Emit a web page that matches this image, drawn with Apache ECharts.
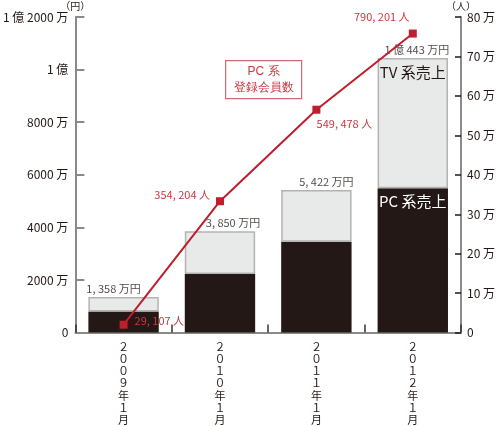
<!DOCTYPE html>
<html><head><meta charset="utf-8">
<script src="https://cdn.jsdelivr.net/npm/echarts@6/dist/echarts.min.js"></script>
<style>html,body{margin:0;padding:0;background:#fff}#c{width:498px;height:426px}</style>
</head><body><div id="c"></div>
<script>
// ---- data ----
const categories = ['２\n０\n０\n９\n年\n１\n月', '２\n０\n１\n０\n年\n１\n月', '２\n０\n１\n１\n年\n１\n月', '２\n０\n１\n２\n年\n１\n月'];
const pcSales = [800, 2230, 3450, 5490];          // 万円 (dark part)
const tvSales = [558, 1620, 1972, 4953];          // 万円 (light part)
const totalSales = [1358, 3850, 5422, 10443];     // 万円
const totalLabels = ['1, 358 万円', '3, 850 万円', '5, 422 万円', '1 億 443 万円'];
const members = [2.0, 33.3, 56.5, 75.8];          // 万人 (as plotted)
const memberLabels = ['29, 107 人', '354, 204 人', '549, 478 人', '790, 201 人'];
const leftTickLabels = ['0', '2000 万', '4000 万', '6000 万', '8000 万', '1 億', '1 億 2000 万'];
const rightTickLabels = ['0', '10 万', '20 万', '30 万', '40 万', '50 万', '60 万', '70 万', '80 万'];

// ---- styles ----
const FONT = "'Liberation Sans Narrow','Noto Sans CJK JP',sans-serif";
const DARK = '#231815', LIGHT = '#e8e9e9', RED = '#be1e2d', RED_T = '#c8383f', GRAY = '#8a8a8a';
const totalLabelOffsets = [[-10, 0], [13, 0], [10, 0], [4, 0]];
const memberLabelStyles = [
  { position: 'right', distance: 7, offset: [0, -4] },
  { position: 'left', distance: 6, offset: [0, -6] },
  { position: 'bottom', distance: 5, offset: [28, 0] },
  { position: 'top', distance: 7, offset: [-31, 0] }
];

const chart = echarts.init(document.getElementById('c'), null, { renderer: 'canvas' });
chart.setOption({
  animation: false,
  backgroundColor: '#fff',
  textStyle: { fontFamily: FONT },
  grid: { left: 60, right: 32, top: 17, bottom: 92, containLabel: false },
  xAxis: {
    type: 'category', data: categories, boundaryGap: true,
    axisLine: { lineStyle: { color: GRAY, width: 2 } },
    axisTick: { show: true, inside: true, length: 8, lineStyle: { color: '#333', width: 1.5 } },
    axisLabel: { color: DARK, fontSize: 11, lineHeight: 12.2, margin: 8, interval: 0, fontFamily: "'Noto Sans CJK JP'" }
  },
  yAxis: [
    {
      type: 'value', min: 0, max: 12000, interval: 2000, position: 'left',
      name: '（円）', nameLocation: 'end', nameGap: 6,
      nameTextStyle: { color: DARK, fontSize: 10, align: 'center', padding: [0, 0, 0, 0] },
      axisLine: { show: true, lineStyle: { color: GRAY, width: 2 } },
      axisTick: { show: true, inside: true, length: 9, lineStyle: { color: GRAY, width: 2 } },
      axisLabel: { color: DARK, fontSize: 12, margin: 7, formatter: (v, i) => leftTickLabels[i] },
      splitLine: { show: false }
    },
    {
      type: 'value', min: 0, max: 80, interval: 10, position: 'right',
      name: '（人）', nameLocation: 'end', nameGap: 6,
      nameTextStyle: { color: DARK, fontSize: 10, align: 'center' },
      axisLine: { show: true, lineStyle: { color: GRAY, width: 2 } },
      axisTick: { show: true, inside: true, length: 6, lineStyle: { color: DARK, width: 1.5 } },
      axisLabel: { color: DARK, fontSize: 12, margin: 6, formatter: (v, i) => rightTickLabels[i] },
      splitLine: { show: false }
    }
  ],
  graphic: [
    {
      type: 'group', left: 225, top: 60,
      children: [
        { type: 'rect', shape: { x: 0, y: 0, width: 76, height: 38 }, style: { fill: '#fff', stroke: '#cf6a6f', lineWidth: 1.2 } },
        { type: 'text', x: 38, y: 19, style: { text: 'PC 系\n登録会員数', fill: RED_T, fontSize: 12, lineHeight: 16, align: 'center', verticalAlign: 'middle', font: '12px ' + FONT } }
      ]
    }
  ],
  series: [
    {
      name: 'PC系売上', type: 'bar', stack: 's', barWidth: '73%', yAxisIndex: 0,
      itemStyle: { color: DARK },
      data: pcSales.map((v, i) => ({
        value: v,
        label: i === 3 ? { show: true, position: 'insideTop', distance: 6, formatter: 'PC 系売上', color: '#fff', fontSize: 15 } : { show: false }
      }))
    },
    {
      name: 'TV系売上', type: 'bar', stack: 's', barWidth: '73%', yAxisIndex: 0,
      itemStyle: { color: LIGHT, borderColor: '#b3b3b3', borderWidth: 1.5 },
      data: tvSales.map((v, i) => ({
        value: v,
        label: i === 3 ? { show: true, position: 'insideTop', distance: 7, formatter: 'TV 系売上', color: DARK, fontSize: 15 } : { show: false }
      }))
    },
    {
      name: '合計', type: 'scatter', yAxisIndex: 0, symbolSize: 0, silent: true, z: 5,
      data: totalSales.map((v, i) => ({
        value: v,
        label: { show: true, position: 'top', distance: 3, offset: totalLabelOffsets[i], formatter: totalLabels[i], color: DARK, fontSize: 11 }
      }))
    },
    {
      name: 'PC系登録会員数', type: 'line', yAxisIndex: 1, z: 10,
      symbol: 'rect', symbolSize: 8,
      lineStyle: { color: RED, width: 2 }, itemStyle: { color: RED },
      data: members.map((v, i) => ({
        value: v,
        label: Object.assign({ show: true, formatter: memberLabels[i], color: RED_T, fontSize: 11 }, memberLabelStyles[i])
      }))
    }
  ]
});
</script></body></html>
